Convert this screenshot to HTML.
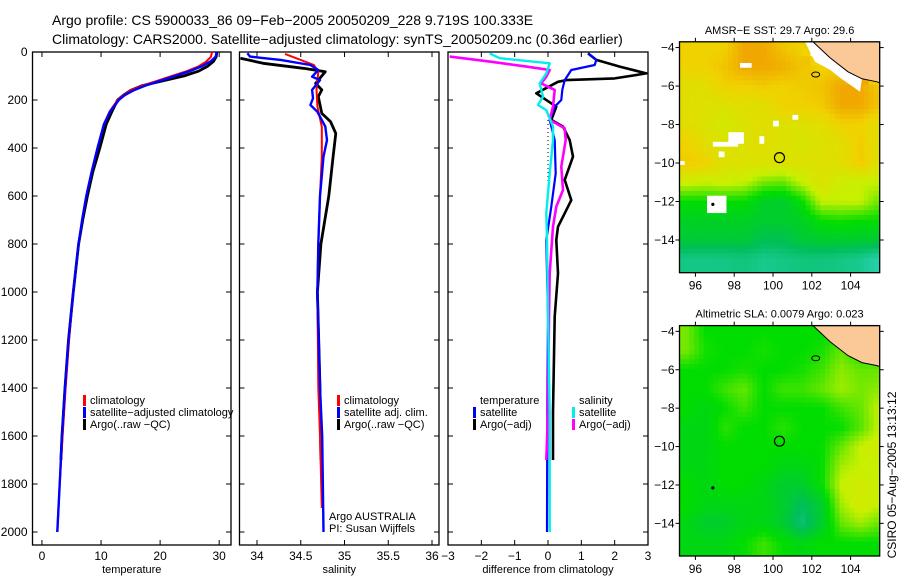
<!DOCTYPE html>
<html><head><meta charset="utf-8">
<style>
html,body{margin:0;padding:0;background:#fff;}
svg{display:block;font-family:"Liberation Sans",sans-serif;}
text{font-size:12px;fill:#000;}
</style></head>
<body>
<svg id="fig" width="900" height="580" viewBox="0 0 900 580" xmlns="http://www.w3.org/2000/svg">
<text x="52" y="25" style="font-size:14px">Argo profile: CS 5900033_86 09−Feb−2005 20050209_228 9.719S 100.333E</text>
<text x="52" y="44" style="font-size:14px">Climatology: CARS2000. Satellite−adjusted climatology: synTS_20050209.nc (0.36d earlier)</text>
<g id="g1"></g>
<g id="g2"></g>
<g id="g3"></g>
<g id="m1"></g>
<g id="m2"></g>
<text transform="translate(896,475) rotate(-90)" text-anchor="middle">CSIRO 05−Aug−2005 13:13:12</text>
</svg>
<script>
// ---- data ----
const tDepth = [0,20,40,60,80,100,120,140,160,180,200,250,300,400,500,600,700,800,1000,1200,1400,1600,1800,2000];
const tClim  = [28.8,28.6,27.8,26.5,24.5,22,19.5,17,15,13.8,12.8,11.4,10.5,9.4,8.4,7.5,6.8,6.2,5.3,4.6,4.0,3.5,3.0,2.6];
const tSat   = [29.6,29.4,28.5,27,25,22.5,20,17.5,15.5,14,13,11.5,10.5,9.4,8.4,7.5,6.8,6.2,5.3,4.5,3.9,3.4,3.0,2.6];
const argoTDepth = [0,20,40,60,80,100,120,140,160,180,200,250,300,400,500,600,700,800,1000,1200,1400,1600,1700];
const tArgo  = [29.6,29.5,29,28,26.5,24,20.5,17,15,13.8,12.8,11.8,10.9,9.8,8.6,7.7,6.9,6.2,5.3,4.5,3.9,3.4,3.2];

const sClimDepth = [8,54,82,158,228,311,436,600,800,1000,1400,1600,1900];
const sClim  = [34.32,34.65,34.7,34.68,34.69,34.74,34.74,34.72,34.70,34.69,34.70,34.72,34.74];
const sSatDepth = [5,19,33,54,75,103,117,158,193,221,249,311,367,436,600,800,1000,1400,1600,2000];
const sSat   = [33.89,33.92,34.27,34.61,34.70,34.63,34.72,34.63,34.64,34.61,34.69,34.78,34.80,34.76,34.72,34.70,34.69,34.72,34.745,34.76];
const sArgoDepth = [26,47,68,82,131,158,186,256,290,339,436,600,800,1000,1400,1700];
const sArgo  = [33.81,34.07,34.53,34.78,34.67,34.74,34.70,34.74,34.84,34.90,34.87,34.82,34.73,34.69,34.72,34.73];

const dTSatDepth = [6,33,54,75,117,158,200,228,283,367,506,644,783,1103,1500,2000];
const dTSat = [1.2,1.45,1.4,0.7,0.5,0.43,0.4,0.2,0.05,0.2,0.23,0.1,-0.05,0.0,-0.02,-0.03];
const dTArgoDepth = [6,33,61,89,110,117,124,172,228,283,311,367,436,533,617,672,728,783,922,1103,1500,1700];
const dTArgo = [1.2,1.45,2.15,2.95,2.0,0.55,0.3,-0.35,0.25,0.1,0.45,0.65,0.75,0.5,0.7,0.5,0.3,0.25,0.3,0.2,0.15,0.15];
const dSSatDepth = [6,26,47,89,131,186,221,242,311,367,506,672,783,1103,1500,2000];
const dSSat = [-1.75,-1.45,0.05,-0.05,-0.25,-0.15,-0.3,-0.05,0.15,0.15,0.05,-0.05,-0.03,0.0,0.05,0.05];
const dSArgoDepth = [19,40,61,75,103,131,158,228,283,318,367,478,575,644,728,922,1103,1500,1700];
const dSArgo = [-2.95,-1.75,-0.65,0.05,-0.05,-0.2,0.2,0.15,0.05,0.5,0.53,0.4,0.45,0.25,0.15,0.05,0.03,0.0,-0.05];

const depthTicks = [0,200,400,600,800,1000,1200,1400,1600,1800,2000];
const tTicks = [0,10,20,30];
const sTicks = [34,34.5,35,35.5,36];
const dTicks = [-3,-2,-1,0,1,2,3];

const lonTicks = [96,98,100,102,104];
const latTicks = [-4,-6,-8,-10,-12,-14];
// coarse colour-index grids (rows -4..-15 lat, cols 95.5..105 lon); 0 teal .. 5 orange; -1 cloud/land gap
const sstGrid = [
[4,4,4,4.6,4.6,4.2,4,-1,-1,-1,-1],
[4,4,4.2,4.6,4.6,4.5,4.2,4,4,3.2,-1],
[3.6,3.6,4,4,4.1,4,4.1,4.2,4.6,4.6,4.1],
[3.6,3.5,3.5,3.6,3.6,4,4,4.1,4.6,4.6,4.2],
[3.6,3.5,3.2,3.5,3.6,3.5,3.5,3.6,4,4,3.6],
[4,3.6,3.5,3.5,3.6,3.5,3.4,3.5,3.6,4.1,3.6],
[4.1,4,3.5,3.5,3.5,3.5,3.5,3.5,3.6,4.1,3.5],
[3.1,3,3.1,3,2.6,2.5,3,3.5,3.1,3,3],
[2,2,2,2,1.6,1.5,2,3,3,3,2.5],
[1.6,1.6,1.6,1.6,1.5,1.5,1.6,2,2.1,2,2],
[1.4,1.4,1.4,1.4,1.1,1.1,1.4,1.5,1.5,1.5,1.4],
[0.5,0.5,0.5,0.6,0.4,0.5,0.6,0.6,0.5,0.4,0]
];
const slaGrid = [
[2.6,2,2,2,2,2,2,2,2,2,2],
[2.6,2.1,2,2,2.1,2,2,2.1,2.5,2.1,2],
[2,2,2,2.1,2,2,2.1,2.3,2.7,2.5,2.5],
[2,2,2.3,2.5,2,2.3,2.3,2.5,2.8,2.6,2.7],
[2,1.8,2,2.3,2,2,2,2,2.3,2.5,3],
[1.8,1.8,2.2,2,2,2.2,2,2,2,2.4,3],
[1.8,1.8,2,2,2,2,2,2,2.5,3,3.2],
[1.8,1.8,2,2,2,1.8,1.8,2,2.8,3,3],
[2,1.8,2,2,1.8,1.5,1.5,2,3,3.2,3],
[2,1.8,1.8,1.8,1.8,1.5,1,1.5,2.8,3.2,3],
[1.8,1.5,1.5,1.8,1.8,1.5,0.7,1.5,2.5,2.8,2.5],
[1.8,1.8,1.8,2,2.3,2,1.8,2,2,2,2]
];
// cloud gaps in SST (lon, lat, width deg, height deg)
const cloudLon = [98.3,97.7,96.9,97.2,100.0,101.0,99.3,95.2,96.6];
const cloudLat = [-4.8,-8.4,-8.9,-9.4,-7.8,-7.5,-8.6,-9.9,-11.7];
const cloudW   = [0.6,0.8,1.3,0.3,0.3,0.3,0.25,0.25,1.0];
const cloudH   = [0.25,0.6,0.25,0.3,0.3,0.25,0.4,0.2,0.9];
const argoLon = [100.333], argoLat = [-9.719];

// ---- helpers ----
const NS='http://www.w3.org/2000/svg';
function mk(parent,tag,attrs,txt){const e=document.createElementNS(NS,tag);for(const k in attrs)e.setAttribute(k,attrs[k]);if(txt!==undefined)e.textContent=txt;parent.appendChild(e);return e;}
const yTop=52, pxPerM=0.24, pBot=545;
const yD = d => yTop + d*pxPerM;

function panel(g,x0,x1,vmin,vmax,ticks,fmt,xlabel,showY){
  const fx=v=>x0+(v-vmin)/(vmax-vmin)*(x1-x0);
  const r=mk(g,'rect',{x:x0,y:yTop,width:x1-x0,height:pBot-yTop,fill:'none',stroke:'#000','stroke-width':1.3});
  
  
  ticks.forEach(t=>{const x=fx(t);
    mk(g,'line',{x1:x,x2:x,y1:pBot,y2:pBot-5,stroke:'#000'});
    mk(g,'line',{x1:x,x2:x,y1:yTop,y2:yTop+5,stroke:'#000'});
    const tl=mk(g,'text',{x:x,y:pBot+15,'text-anchor':'middle'},fmt(t));
    
    
  });
  depthTicks.forEach(d=>{const y=yD(d);
    mk(g,'line',{x1:x0,x2:x0+5,y1:y,y2:y,stroke:'#000'});
    mk(g,'line',{x1:x1,x2:x1-5,y1:y,y2:y,stroke:'#000'});
    if(showY){const tl=mk(g,'text',{x:x0-5,y:y+4,'text-anchor':'end'},String(d));
      
      }
  });
  const xl=mk(g,'text',{x:(x0+x1)/2,y:573,'text-anchor':'middle','style':'font-size:11px'},xlabel);
  
  
  return fx;
}
function series(g,fx,depths,vals,color,w,name,x0,x1){
  const pts=depths.map((d,i)=>fx(vals[i]).toFixed(1)+','+yD(d).toFixed(1)).join(' ');
  const cp='clip'+Math.round(x0);
  if(!document.getElementById(cp)){const c=mk(g,'clipPath',{id:cp});mk(c,'rect',{x:x0,y:yTop,width:x1-x0,height:pBot-yTop});}
  const p=mk(g,'polyline',{points:pts,fill:'none',stroke:color,'stroke-width':w,'clip-path':'url(#'+cp+')','stroke-linejoin':'round'});
  
  
}
function legend(g,x,y,items){
  items.forEach((it,i)=>{
    if(it[1]) mk(g,'rect',{x:x,y:y+i*12-9,width:3,height:11,fill:it[1]});
    const t=mk(g,'text',{x:x+7,y:y+i*12,'style':'font-size:11px'},it[0]);
    
    
  });
}

// panel 1
const g1=document.getElementById('g1');
const fT=panel(g1,32.5,231,-1.6,32,tTicks,String,'temperature',true);
series(g1,fT,argoTDepth,tArgo,'#000',2.8,'argo-temperature-line',32.5,231);
series(g1,fT,tDepth,tClim,'#f00',2,'climatology-temperature-line',32.5,231);
series(g1,fT,tDepth,tSat,'#00f',2.4,'satellite-temperature-line',32.5,231);
legend(g1,83,404,[['climatology','#f00'],['satellite−adjusted climatology','#00f'],['Argo(..raw −QC)','#000']]);

// panel 2
const g2=document.getElementById('g2');
const fS=panel(g2,239.5,439,33.8,36.08,sTicks,v=>String(v),'salinity',false);
series(g2,fS,sArgoDepth,sArgo,'#000',2.8,'argo-salinity-line',239.5,439);
series(g2,fS,sClimDepth,sClim,'#f00',2,'climatology-salinity-line',239.5,439);
series(g2,fS,sSatDepth,sSat,'#00f',2.4,'satellite-salinity-line',239.5,439);
legend(g2,337,404,[['climatology','#f00'],['satellite adj. clim.','#00f'],['Argo(..raw −QC)','#000']]);
legend(g2,322,520,[['Argo AUSTRALIA',null],['PI: Susan Wijffels',null]]);

// panel 3
const g3=document.getElementById('g3');
const fD=panel(g3,448,648,-3,3,dTicks,v=>v<0?'−'+(-v):String(v),'difference from climatology',false);
mk(g3,'line',{x1:fD(0),x2:fD(0),y1:yD(250),y2:yD(600),stroke:'#000','stroke-dasharray':'1,3'});
series(g3,fD,dTArgoDepth,dTArgo,'#000',2.6,'argo-temperature-diff-line',448,648);
series(g3,fD,dTSatDepth,dTSat,'#00f',2.2,'satellite-temperature-diff-line',448,648);
series(g3,fD,dSArgoDepth,dSArgo,'#f0f',2.6,'argo-salinity-diff-line',448,648);
series(g3,fD,dSSatDepth,dSSat,'#0ee',2.4,'satellite-salinity-diff-line',448,648);
legend(g3,473,404,[['temperature',null],['satellite','#00f'],['Argo(−adj)','#000']]);
legend(g3,572,404,[['salinity',null],['satellite','#0ee'],['Argo(−adj)','#f0f']]);

// ---- maps ----
const cstops=[[0,[40,208,176]],[1,[0,190,90]],[2,[0,221,0]],[3,[200,240,0]],[4,[240,210,0]],[5,[240,140,0]]];
function cmap(v){if(v<0)return '#fff';v=Math.max(0,Math.min(5,v));
  for(let i=0;i<cstops.length-1;i++){const a=cstops[i],b=cstops[i+1];if(v<=b[0]){const f=(v-a[0])/(b[0]-a[0]);
    return 'rgb('+a[1].map((c,j)=>Math.round(c+(b[1][j]-c)*f)).join(',')+')';}}
  return 'rgb(240,140,0)';}
function drawMap(id,top,bot,title,grid,clouds){
  const g0=document.getElementById(id);
  const L=679.5,R=879.7,lonMin=95.18,lonMax=105.5,latTop=-3.7,latBot=-15.7;
  const clipId='mclip'+id;
  const cpth=mk(g0,'clipPath',{id:clipId});mk(cpth,'rect',{x:L,y:top,width:R-L,height:bot-top});
  const g=mk(g0,'g',{'clip-path':'url(#'+clipId+')'});
  
  
  const fx=lo=>L+(lo-lonMin)/(lonMax-lonMin)*(R-L);
  const fy=la=>top+(latTop-la)/(latTop-latBot)*(bot-top);
  const cw=0.25;
  for(let la=latTop; la>latBot; la-=cw){
    for(let lo=lonMin; lo<lonMax; lo+=cw){
      const r=(-4-(la-cw/2)), c=((lo+cw/2)-95.5);
      const ri=Math.max(0,Math.min(grid.length-1,r)), ci=Math.max(0,Math.min(grid[0].length-1,c));
      const r0=Math.floor(ri),c0=Math.floor(ci),r1=Math.min(r0+1,grid.length-1),c1=Math.min(c0+1,grid[0].length-1);
      const fr=ri-r0,fc=ci-c0;
      const vals=[grid[r0][c0],grid[r0][c1],grid[r1][c0],grid[r1][c1]];
      let v;
      if(vals.some(q=>q<0)){const nr=Math.round(ri),nc=Math.round(ci);v=grid[nr][nc];}
      else v=(vals[0]*(1-fc)+vals[1]*fc)*(1-fr)+(vals[2]*(1-fc)+vals[3]*fc)*fr;
      const x=fx(lo),y=fy(la);
      const cell=mk(g,'rect',{x:x.toFixed(2),y:y.toFixed(2),width:(fx(lo+cw)-x+0.4).toFixed(2),height:(fy(la-cw)-y+0.4).toFixed(2),fill:cmap(v)});
      
      
    }
  }
  if(clouds){
    cloudLon.forEach((lo,i)=>{
      const cr=mk(g,'rect',{x:fx(lo),y:fy(cloudLat[i]),width:fx(lo+cloudW[i])-fx(lo),height:fy(cloudLat[i]-cloudH[i])-fy(cloudLat[i]),fill:'#fff'});
      
      
    });
    const wb=mk(g,'polygon',{points:[[805,top],[813,top],[830,top+16],[848,top+30],[862,top+37],[860,top+50],[853,top+45],[840,top+36],[830,top+28],[815,top+20]].map(p=>p.join(',')).join(' '),fill:'#fff'});
    
    
  }
  // land
  const land=mk(g,'polygon',{points:[[813,top+0],[R,top],[R,top+41],[877,top+40],[862,top+37],[848,top+30],[830,top+16]].map(p=>p.join(',')).join(' '),fill:'#fbc898',stroke:'#000','stroke-width':1});
  
  
  const is=mk(g,'ellipse',{cx:fx(102.2),cy:fy(-5.4),rx:4,ry:2.5,fill:'none',stroke:'#000'});
  
  
  const c=mk(g,'circle',{cx:fx(argoLon[0]),cy:fy(argoLat[0]),r:5,fill:'none',stroke:'#000','stroke-width':1.2});
  
  
  mk(g,'circle',{cx:fx(96.9),cy:fy(-12.15),r:1.6,fill:'#000'});
  const fr=mk(g0,'rect',{x:L,y:top,width:R-L,height:bot-top,fill:'none',stroke:'#000','stroke-width':1.3});
  
  
  lonTicks.forEach(lo=>{const x=fx(lo);mk(g0,'line',{x1:x,x2:x,y1:bot,y2:bot+4,stroke:'#000'});mk(g0,'line',{x1:x,x2:x,y1:top,y2:top-4,stroke:'#000'});
    const t=mk(g0,'text',{x:x,y:bot+17,'text-anchor':'middle'},String(lo));
    
    });
  latTicks.forEach(la=>{const y=fy(la);mk(g0,'line',{x1:L,x2:L-4,y1:y,y2:y,stroke:'#000'});mk(g0,'line',{x1:R,x2:R+4,y1:y,y2:y,stroke:'#000'});
    const t=mk(g0,'text',{x:L-5,y:y+4,'text-anchor':'end'},'−'+(-la));
    
    });
  const tt=mk(g0,'text',{x:(L+R)/2,y:top-8,'text-anchor':'middle','style':'font-size:11px'},title);
  
  
}
drawMap('m1',41.8,272.7,'AMSR−E SST: 29.7 Argo: 29.6',sstGrid,true);
drawMap('m2',325.6,556,'Altimetric SLA: 0.0079 Argo: 0.023',slaGrid,false);
</script>
</body></html>
